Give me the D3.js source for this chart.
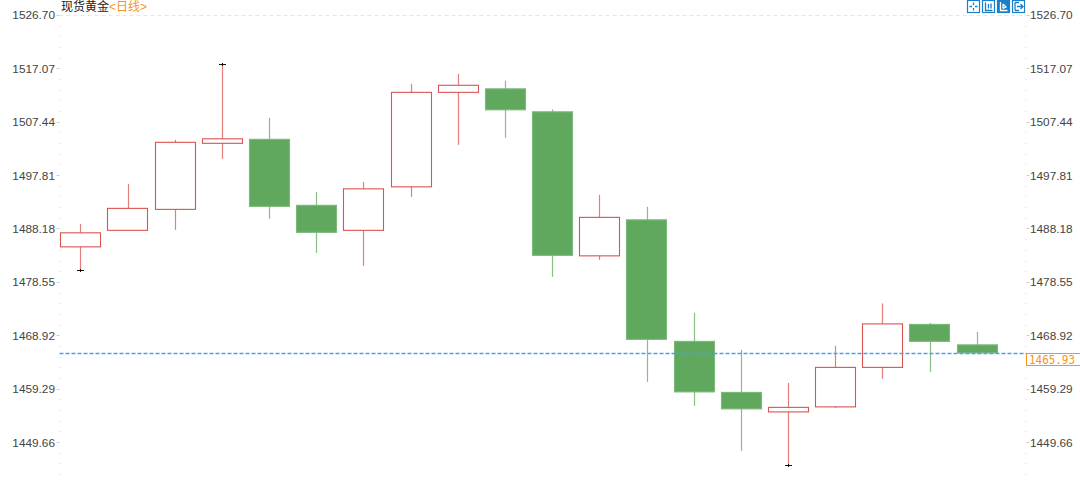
<!DOCTYPE html>
<html><head><meta charset="utf-8">
<script src="https://cdn.jsdelivr.net/npm/d3@7/dist/d3.min.js"></script>
<style>html,body{margin:0;padding:0;background:#fff;overflow:hidden}svg{display:block}
text{font-family:"Liberation Sans",Arial,sans-serif}</style></head>
<body><svg id="c" width="1080" height="483"></svg>
<script>
const titleName = "现货黄金";
const titlePeriod = "<日线>";
const tickLabels = [1526.70,1517.07,1507.44,1497.81,1488.18,1478.55,1468.92,1459.29,1449.66];
const minorTicks = [1524.77,1522.85,1520.92,1519.00,1515.14,1513.22,1511.29,1509.37,1505.51,1503.59,1501.66,1499.74,1495.88,1493.96,1492.03,1490.11,1486.25,1484.33,1482.40,1480.48,1476.62,1474.70,1472.77,1470.85,1466.99,1465.07,1463.14,1461.22,1457.36,1455.44,1453.51,1451.59,1447.73,1445.81,1443.88];
const days = d3.range(1,21);
const opens  = [1484.86,1487.84,1491.62,1503.53,1504.25,1492.35,1487.84,1495.68,1512.72,1513.35,1509.21,1483.24,1489.73,1467.82,1458.62,1455.10,1456.01,1463.13,1470.88,1467.19];
const closes = [1487.39,1491.80,1503.71,1504.34,1492.16,1487.48,1495.32,1512.72,1513.99,1509.57,1483.33,1490.18,1468.18,1458.71,1455.65,1455.92,1463.13,1470.97,1467.82,1465.74];
const highs  = [1489.01,1496.22,1504.16,1517.86,1508.12,1494.78,1496.58,1514.26,1516.06,1514.80,1509.66,1494.24,1492.07,1472.96,1466.29,1460.33,1467.01,1474.67,1471.15,1469.53];
const lows   = [1480.71,1487.84,1487.93,1500.73,1489.91,1483.78,1481.43,1493.88,1503.26,1504.52,1479.45,1482.52,1460.51,1456.19,1448.07,1445.46,1455.83,1461.06,1462.32,1465.65];
const lastClose = 1465.74;
const lastLabel = "1465.93";
const extremeDays = [1,4,16];
const extremeKinds = ["low","high","low"];

const RED="#d9534f", GREEN="#61a85f", ORANGE="#f7931e", BLUE="#1a80c8";
const svg=d3.select("#c");
const y=d3.scaleLinear().domain([1526.70,1449.66]).range([14.8,442.1]);
const x=d3.scaleBand().domain(days).range([57,1000.2]).paddingInner(0.145).paddingOuter(0.07);
const cx=d=>Math.round(x(d)+x.bandwidth()/2)+0.5;
const L=59.5,R=1026.5;

// frame
svg.append("line").attr("x1",L).attr("x2",R).attr("y1",15.5).attr("y2",15.5)
  .attr("stroke","#e6e6e6").attr("stroke-dasharray","4,3");
[{p:L,d:-1},{p:R,d:1}].forEach(s=>{
  const g=svg.append("g");
  g.selectAll("line.mi").data(minorTicks).join("line").attr("class","mi")
    .attr("x1",s.p).attr("x2",s.p+s.d*-1).attr("y1",d=>Math.round(y(d))+.5).attr("y2",d=>Math.round(y(d))+.5)
    .attr("stroke","#d8d8d8");
  g.selectAll("line.ma").data(tickLabels).join("line").attr("class","ma")
    .attr("x1",s.p).attr("x2",s.p+s.d*3).attr("y1",d=>Math.round(y(d))+.5).attr("y2",d=>Math.round(y(d))+.5)
    .attr("stroke","#cfcfcf");
});
const fmt=d3.format(".2f");
svg.append("g").selectAll("text").data(tickLabels).join("text").attr("x",55).attr("y",d=>y(d)+4.5)
  .attr("text-anchor","end").attr("font-size",11.8).attr("fill","#444").text(fmt);
svg.append("g").selectAll("text").data(tickLabels).join("text").attr("x",1030).attr("y",d=>y(d)+4.5)
  .attr("font-size",11.8).attr("fill","#444").text(fmt);

// candles
const idx=d3.range(days.length);
const up=i=>closes[i]>=opens[i];
const col=i=>up(i)?RED:GREEN;
const g=svg.append("g");
g.selectAll("line.w").data(idx).join("line").attr("class","w")
  .attr("x1",i=>cx(days[i])).attr("x2",i=>cx(days[i]))
  .attr("y1",i=>y(highs[i])).attr("y2",i=>y(lows[i]))
  .attr("stroke",col).attr("stroke-opacity",.75).attr("stroke-width",1.2);
g.selectAll("rect").data(idx).join("rect")
  .attr("x",i=>Math.round(x(days[i]))+.5).attr("width",Math.round(x.bandwidth()))
  .attr("y",i=>y(Math.max(opens[i],closes[i])))
  .attr("height",i=>Math.max(1,Math.abs(y(opens[i])-y(closes[i]))))
  .attr("fill",i=>up(i)?"#fff":GREEN).attr("stroke",i=>up(i)?RED:"#7db87b").attr("stroke-width",1.1);
// extreme markers
extremeDays.forEach((d,k)=>{
  const i=days.indexOf(d), v=extremeKinds[k]==="high"?highs[i]:lows[i];
  svg.append("line").attr("x1",cx(d)-3.5).attr("x2",cx(d)+3.5).attr("y1",Math.round(y(v))+.5).attr("y2",Math.round(y(v))+.5).attr("stroke","#111");
  svg.append("line").attr("x1",cx(d)).attr("x2",cx(d)).attr("y1",Math.round(y(v))-1).attr("y2",Math.round(y(v))+2).attr("stroke","#111");
});
// last price
const ly=Math.round(y(lastClose))+.5;
svg.append("line").attr("x1",L).attr("x2",R).attr("y1",ly).attr("y2",ly).attr("stroke","#4a9ff0").attr("stroke-width",1.6).attr("stroke-dasharray","4,2");
svg.append("rect").attr("x",1026.5).attr("y",ly).attr("width",54).attr("height",12).attr("fill","#fff").attr("stroke",ORANGE);
svg.append("text").attr("x",1029).attr("y",ly+10).attr("font-size",12).attr("fill",ORANGE)
  .style("font-family","'DejaVu Sans Mono','Liberation Mono',monospace").attr("textLength",46).attr("lengthAdjust","spacingAndGlyphs").text(lastLabel);

// title
const t=svg.append("text").attr("x",61).attr("y",11).attr("font-size",12).style("font-family","'Liberation Sans','Noto Sans CJK SC',sans-serif");
t.append("tspan").attr("fill","#222").text(titleName);
t.append("tspan").attr("fill",ORANGE).text(titlePeriod);

// toolbar icons
const iconX=[967,982,997,1012];
const ig=svg.append("g");
iconX.forEach((ix,k)=>{
  const on=k===2;
  ig.append("rect").attr("x",ix+.5).attr("y",.5).attr("width",12).attr("height",12).attr("fill",on?BLUE:"#fff").attr("stroke",BLUE).attr("stroke-width",1.2);
  const c=on?"#fff":BLUE;
  const paths=[
    `M${ix+6.5} 2.5V5M${ix+6.5} 8V10.5M${ix+2.5} 6.5H${ix+5}M${ix+8} 6.5H${ix+10.5}`,
    `M${ix+3.5} 2.5V10.5H${ix+10.5}M${ix+6.5} 4V8.5M${ix+9} 3.5V8.5`,
    `M${ix+3.5} 2V10.5H${ix+10.5}M${ix+6} 4V8.5M${ix+6} 4L${ix+9} 7L${ix+6} 8.5`,
    `M${ix+3} 2.5V10.5M${ix+3} 2.5H${ix+7}M${ix+3} 10.5H${ix+7}M${ix+5} 6.5H${ix+11}M${ix+8.5} 4L${ix+11} 6.5L${ix+8.5} 9`
  ];
  ig.append("path").attr("d",paths[k]).attr("fill","none").attr("stroke",c).attr("stroke-width",1.3);
});
</script></body></html>
